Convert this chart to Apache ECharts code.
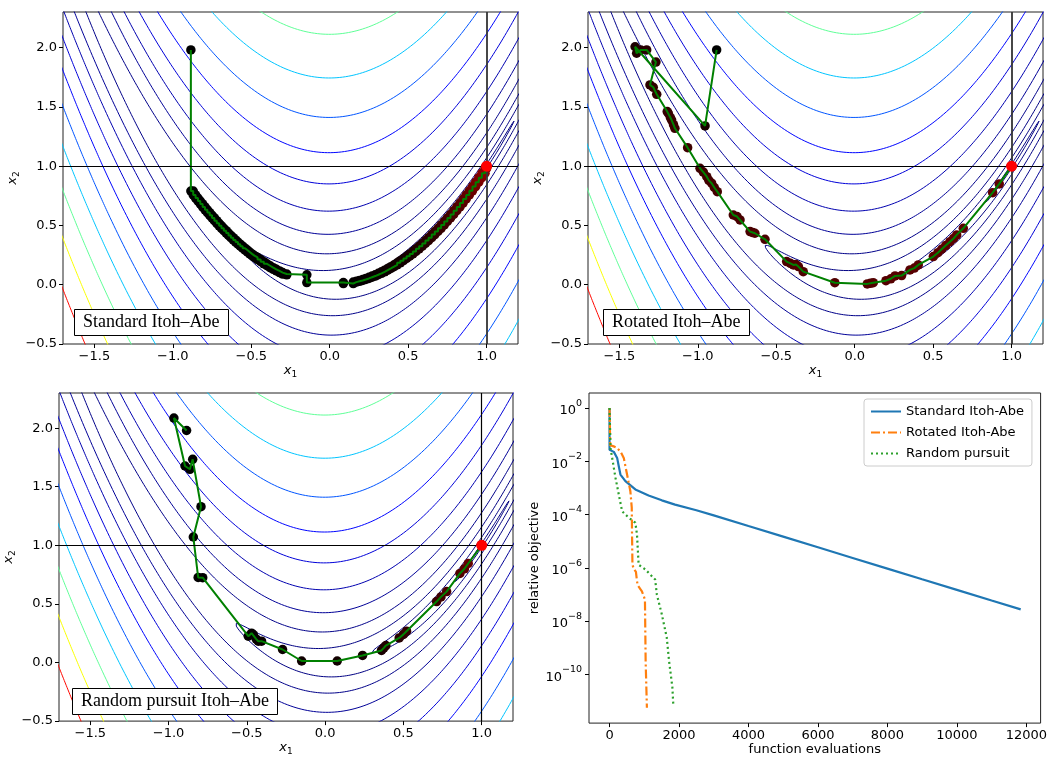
<!DOCTYPE html>
<html><head><meta charset="utf-8">
<script src="https://cdn.jsdelivr.net/npm/echarts@6/dist/echarts.min.js"></script>
<style>html,body{margin:0;padding:0;background:#fff}#c{width:1050px;height:757px}</style>
</head><body><div id="c"></div>
<script>
// ---------------- data ----------------
const rosenA = 1, rosenB = 100;                 // objective f = (a-x1)^2 + b(x2-x1^2)^2
const contourLevels = [0.0305, 0.488, 2.47, 7.81, 19.07, 39.5, 73.3, 125, 200, 305, 447, 633, 866];
const contourColors = ['#000080','#000080','#000083','#000089','#000097','#0000af','#0000d8','#0005ff','#0055ff','#00c4ff','#5fff97','#faff00','#ff0800'];
const panelTitles = ['Standard Itoh\u2013Abe', 'Rotated Itoh\u2013Abe', 'Random pursuit Itoh\u2013Abe'];
const x1Ticks = [-1.5, -1.0, -0.5, 0.0, 0.5, 1.0];
const x2Ticks = [-0.5, 0.0, 0.5, 1.0, 1.5, 2.0];
const minimizer = [1, 1];

const stdPath = [[-0.885,1.98],[-0.885,0.79],
[-0.87,0.79],[-0.87,0.757],[-0.855,0.757],[-0.855,0.731],[-0.84,0.731],[-0.84,0.706],[-0.825,0.706],[-0.825,0.681],[-0.81,0.681],[-0.81,0.656],[-0.795,0.656],[-0.795,0.632],[-0.78,0.632],[-0.78,0.608],[-0.765,0.608],[-0.765,0.585],[-0.75,0.585],[-0.75,0.563],[-0.735,0.563],[-0.735,0.540],[-0.72,0.540],[-0.72,0.518],[-0.705,0.518],[-0.705,0.497],[-0.69,0.497],[-0.69,0.476],[-0.675,0.476],[-0.675,0.456],[-0.66,0.456],[-0.66,0.436],[-0.645,0.436],[-0.645,0.416],[-0.63,0.416],[-0.63,0.397],[-0.615,0.397],[-0.615,0.378],[-0.60,0.378],[-0.60,0.360],[-0.585,0.360],[-0.585,0.342],[-0.57,0.342],[-0.57,0.325],[-0.555,0.325],[-0.555,0.308],[-0.54,0.308],[-0.54,0.292],[-0.525,0.292],[-0.525,0.276],[-0.51,0.276],[-0.51,0.260],[-0.495,0.260],[-0.495,0.245],[-0.48,0.245],[-0.48,0.230],[-0.46,0.230],[-0.46,0.212],[-0.44,0.212],[-0.44,0.194],[-0.42,0.194],[-0.42,0.176],[-0.40,0.176],[-0.40,0.160],[-0.38,0.160],[-0.38,0.144],[-0.36,0.144],[-0.36,0.130],[-0.34,0.130],[-0.34,0.116],[-0.32,0.116],[-0.32,0.102],[-0.30,0.102],[-0.30,0.090],[-0.274,0.090],[-0.274,0.083],
[-0.146,0.083],[-0.146,0.018],[0.087,0.018],[0.087,0.010],[0.15,0.010],[0.15,0.022],
[0.17,0.022],[0.17,0.029],[0.19,0.029],[0.19,0.036],[0.21,0.036],[0.21,0.044],[0.23,0.044],[0.23,0.053],[0.25,0.053],[0.25,0.063],[0.27,0.063],[0.27,0.073],[0.29,0.073],[0.29,0.084],[0.31,0.084],[0.31,0.096],[0.33,0.096],[0.33,0.109],[0.35,0.109],[0.35,0.123],[0.37,0.123],[0.37,0.137],[0.39,0.137],[0.39,0.152],[0.41,0.152],[0.41,0.168],[0.43,0.168],[0.43,0.185],[0.45,0.185],[0.45,0.203],[0.47,0.203],[0.47,0.221],[0.49,0.221],[0.49,0.240],[0.51,0.240],[0.51,0.260],[0.53,0.260],[0.53,0.281],[0.55,0.281],[0.55,0.303],[0.57,0.303],[0.57,0.325],[0.59,0.325],[0.59,0.348],[0.61,0.348],[0.61,0.372],[0.63,0.372],[0.63,0.397],[0.65,0.397],[0.65,0.423],[0.67,0.423],[0.67,0.449],[0.69,0.449],[0.69,0.476],[0.71,0.476],[0.71,0.504],[0.73,0.504],[0.73,0.533],[0.75,0.533],[0.75,0.563],[0.77,0.563],[0.77,0.593],[0.79,0.593],[0.79,0.624],[0.81,0.624],[0.81,0.656],[0.83,0.656],[0.83,0.689],[0.85,0.689],[0.85,0.723],[0.87,0.723],[0.87,0.757],[0.89,0.757],[0.89,0.792],[0.91,0.792],[0.91,0.828],[0.93,0.828],[0.93,0.865],[0.95,0.865],[0.95,0.903],[0.97,0.903],[0.97,0.941],[0.99,0.941],[0.99,0.98],[1.0,0.98],[1.0,1.0]];

const rotPath = [[-0.88,1.98],[-0.954,1.339],[-1.40,2.007],[-1.39,1.952],[-1.364,1.98],[-1.326,1.98],[-1.267,1.878],[-1.305,1.685],[-1.284,1.665],[-1.262,1.606],[-1.195,1.46],[-1.188,1.446],[-1.175,1.41],[-1.167,1.389],[-1.155,1.35],[-1.146,1.319],[-1.065,1.156],[-0.986,0.982],[-0.965,0.95],[-0.943,0.911],[-0.93,0.88],[-0.912,0.856],[-0.895,0.82],[-0.876,0.785],[-0.774,0.588],[-0.75,0.575],[-0.731,0.546],[-0.667,0.448],[-0.65,0.44],[-0.636,0.434],[-0.572,0.383],[-0.434,0.195],[-0.41,0.18],[-0.391,0.167],[-0.375,0.17],[-0.359,0.153],[-0.328,0.11],[-0.127,0.017],[0.080,0.007],[0.10,0.012],[0.118,0.017],[0.199,0.034],[0.23,0.05],[0.257,0.074],[0.299,0.077],[0.352,0.125],[0.38,0.14],[0.405,0.167],[0.501,0.237],[0.53,0.27],[0.554,0.299],[0.58,0.33],[0.607,0.363],[0.630,0.39],[0.650,0.420],[0.692,0.476],[0.879,0.776],[0.921,0.850],[1.0,1.0]];

const rpPath = [[-0.885,1.98],[-0.966,2.086],[-0.895,1.677],[-0.864,1.649],[-0.846,1.734],[-0.793,1.33],[-0.842,1.071],[-0.811,0.726],[-0.782,0.724],[-0.491,0.225],[-0.47,0.25],[-0.459,0.238],[-0.44,0.2],[-0.427,0.182],[-0.406,0.182],[-0.272,0.111],[-0.150,0.013],[0.077,0.013],[0.239,0.06],[0.36,0.103],[0.375,0.125],[0.388,0.145],[0.473,0.21],[0.50,0.24],[0.520,0.267],[0.712,0.52],[0.74,0.56],[0.776,0.605],[0.861,0.76],[0.89,0.80],[0.914,0.845],[1.0,1.0]];

// relative objective vs function evaluations
const seriesNames = ['Standard Itoh-Abe', 'Rotated Itoh-Abe', 'Random pursuit'];
const stdEvals = [0,0,124,219,266,314,457,743,1124,1505,1886,2500,3000,4000,5000,6000,7000,8000,9000,10000,11000,11838];
const stdObj = [1,0.0269,0.0224,0.0133,0.00646,0.00316,0.00178,0.00087,5.2e-4,3.4e-4,2.34e-4,1.45e-4,9.3e-5,3.7e-5,1.48e-5,5.9e-6,2.34e-6,9.3e-7,3.7e-7,1.48e-7,5.9e-8,2.75e-8];
const rotEvals = [0,20,120,191,314,410,505,600,640,648,660,700,760,790,810,933,1000,1020,1040,1076];
const rotObj = [1,0.04,0.036,0.033,0.0234,0.0133,0.00316,0.00074,0.00018,1.8e-5,1.3e-6,9e-7,7e-7,3.2e-7,2.2e-7,1.3e-7,7.6e-8,6e-8,3e-10,5.6e-12];
const rpEvals = [0,30,76,171,267,362,552,743,790,838,1029,1314,1362,1505,1648,1714,1810,1838];
const rpObj = [1,0.03,0.0133,0.0024,0.00056,0.000132,7.6e-5,4.9e-5,1.8e-5,1.3e-6,8.7e-7,3.6e-7,1e-7,1.8e-8,2.4e-9,3.2e-10,3.2e-11,6.5e-12];
const evalTicks = [0,2000,4000,6000,8000,10000,12000];
const decadeTicks = [-10,-8,-6,-4,-2,0];

// ---------------- layout / style ----------------
const X1MIN = -1.7, X1MAX = 1.2, X2MIN = -0.5, X2MAX = 2.3;
const grids = [
  {left:63, top:12, width:455, height:332},
  {left:588, top:12, width:455, height:332},
  {left:59, top:393, width:454, height:331},
  {left:589, top:393, width:454, height:331}
];
const FONT = 'DejaVu Sans';
const tickFmt = v => (v < 0 ? '\u2212' : '') + Math.abs(v).toFixed(1);

function contourData(c) {
  const s = Math.sqrt(c), h = Math.sqrt(c / rosenB);
  const cmax = Math.min(1, (X1MAX + 0.05 - rosenA) / s);
  const cmin = Math.max(-1, (X1MIN - 0.05 - rosenA) / s);
  const t1 = Math.acos(cmax), t2 = Math.acos(cmin);
  const N = 500, pts = [];
  const pt = t => { const x = rosenA + s * Math.cos(t); return [x, x * x + h * Math.sin(t)]; };
  if (cmin === -1) {
    const a = t1, b = 2 * Math.PI - t1;
    for (let i = 0; i <= 2 * N; i++) pts.push(pt(a + (b - a) * i / (2 * N)));
  } else {
    for (let i = 0; i <= N; i++) pts.push(pt(t1 + (t2 - t1) * i / N));
    pts.push([null, null]);
    const a = 2 * Math.PI - t2, b = 2 * Math.PI - t1;
    for (let i = 0; i <= N; i++) pts.push(pt(a + (b - a) * i / N));
  }
  return pts;
}

function markerColors(n, p, maxR) {
  const out = [];
  for (let i = 0; i < n; i++) {
    const t = n > 1 ? i / (n - 1) : 0;
    const r = Math.round(maxR * Math.pow(t, p));
    out.push('rgb(' + r + ',0,0)');
  }
  return out;
}

const xAxes = [], yAxes = [], series = [], titles = [];
const paths = [stdPath, rotPath, rpPath];
const colorParams = [[5, 150], [0.35, 95], [3, 110]];
const vlineStyle = [{color:'#333', width:1.8}, {color:'#333', width:1.8}, {color:'#000', width:1.2}];
const subRich = {i:{fontFamily:FONT, fontStyle:'italic', fontSize:13, color:'#000', verticalAlign:'top'}, s:{fontFamily:FONT, fontSize:9, color:'#000', verticalAlign:'bottom', padding:[6,0,0,0]}};

for (let g = 0; g < 3; g++) {
  xAxes.push({
    type:'value', gridIndex:g, min:X1MIN, max:X1MAX,
    name:'{i|x}{s|1}', nameLocation:'middle', nameGap:19,
    nameTextStyle:{rich:subRich},
    axisLine:{show:false, onZero:false}, splitLine:{show:false},
    axisTick:{show:true, length:4, lineStyle:{color:'#000'}, customValues:x1Ticks},
    axisLabel:{fontFamily:FONT, fontSize:13, color:'#000', margin:6, formatter:tickFmt, customValues:x1Ticks, showMinLabel:true, showMaxLabel:true}
  });
  yAxes.push({
    type:'value', gridIndex:g, min:X2MIN, max:X2MAX,
    name:'{i|x}{s|2}', nameLocation:'middle', nameGap:38,
    nameTextStyle:{rich:subRich},
    axisLine:{show:false, onZero:false}, splitLine:{show:false},
    axisTick:{show:true, length:4, lineStyle:{color:'#000'}, customValues:x2Ticks},
    axisLabel:{fontFamily:FONT, fontSize:13, color:'#000', margin:6, formatter:tickFmt, customValues:x2Ticks, showMinLabel:true, showMaxLabel:true}
  });
  contourLevels.forEach((c, k) => {
    series.push({
      type:'line', xAxisIndex:g, yAxisIndex:g, data:contourData(c), showSymbol:false, symbol:'none',
      silent:true, clip:true, connectNulls:false, z:1,
      lineStyle:{color:contourColors[k], width:1}
    });
  });
  const path = paths[g];
  const cols = markerColors(path.length, colorParams[g][0], colorParams[g][1]);
  series.push({
    type:'scatter', xAxisIndex:g, yAxisIndex:g, silent:true, z:3, symbolSize:9.5,
    data:path.map((p, i) => ({value:p, itemStyle:{color:cols[i], opacity:1}}))
  });
  series.push({
    type:'line', xAxisIndex:g, yAxisIndex:g, silent:true, z:4, showSymbol:false, symbol:'none',
    data:path, lineStyle:{color:'#008000', width:2},
    markLine:{silent:true, symbol:['none','none'], label:{show:false}, animation:false,
      data:[{xAxis:minimizer[0], lineStyle:vlineStyle[g]}, {yAxis:minimizer[1], lineStyle:{color:'#000', width:1.2}}],
      lineStyle:{type:'solid'}}
  });
  series.push({
    type:'scatter', xAxisIndex:g, yAxisIndex:g, silent:true, z:5, symbolSize:11,
    data:[minimizer], itemStyle:{color:'#ff0000', opacity:1}
  });
  titles.push({
    text:panelTitles[g],
    left:[74, 603, 72][g], top:[309, 309, 688][g],
    padding:[3,9,3,9], backgroundColor:'#fff', borderColor:'#000', borderWidth:1,
    textStyle:{fontFamily:'Liberation Serif', fontWeight:'normal', fontSize:18, color:'#000', lineHeight:21}
  });
}

// convergence panel
const toLog = (ev, ob) => ev.map((e, i) => [e, Math.log10(ob[i])]);
xAxes.push({
  type:'value', gridIndex:3, min:-591, max:12411,
  name:'function evaluations', nameLocation:'middle', nameGap:19,
  nameTextStyle:{fontFamily:FONT, fontSize:13, color:'#000'},
  axisLine:{show:false, onZero:false}, splitLine:{show:false},
  axisTick:{show:true, length:4, lineStyle:{color:'#000'}, customValues:evalTicks},
  axisLabel:{fontFamily:FONT, fontSize:13, color:'#000', margin:6, customValues:evalTicks, formatter:v => String(Math.round(v))}
});
yAxes.push({
  type:'value', gridIndex:3, min:-11.83, max:0.56,
  name:'relative objective', nameLocation:'middle', nameGap:45,
  nameTextStyle:{fontFamily:FONT, fontSize:13, color:'#000'},
  axisLine:{show:false, onZero:false}, splitLine:{show:false},
  axisTick:{show:true, length:4, lineStyle:{color:'#000'}, customValues:decadeTicks},
  axisLabel:{margin:7, customValues:decadeTicks,
    formatter:v => '{b|10}{s|' + (v < 0 ? '\u2212' : '') + Math.abs(Math.round(v)) + '}',
    rich:{b:{fontFamily:FONT, fontSize:13, color:'#000', verticalAlign:'bottom', padding:[6,0,0,0]},
          s:{fontFamily:FONT, fontSize:9.5, color:'#000', verticalAlign:'top'}}}
});
series.push({name:seriesNames[0], type:'line', xAxisIndex:3, yAxisIndex:3, data:toLog(stdEvals, stdObj), showSymbol:false, symbol:'none', silent:true, z:3,
  color:'#1f77b4', lineStyle:{color:'#1f77b4', width:2.2}});
series.push({name:seriesNames[1], type:'line', xAxisIndex:3, yAxisIndex:3, data:toLog(rotEvals, rotObj), showSymbol:false, symbol:'none', silent:true, z:3,
  color:'#ff7f0e', lineStyle:{color:'#ff7f0e', width:2.2, type:[9,3,2,3]}});
series.push({name:seriesNames[2], type:'line', xAxisIndex:3, yAxisIndex:3, data:toLog(rpEvals, rpObj), showSymbol:false, symbol:'none', silent:true, z:3,
  color:'#2ca02c', lineStyle:{color:'#2ca02c', width:2.2, type:[2,3]}});

const option = {
  animation:false,
  backgroundColor:'#fff',
  title:titles,
  grid:grids.map(g => Object.assign({show:true, borderColor:'#222', borderWidth:1, backgroundColor:'transparent', containLabel:false}, g)),
  xAxis:xAxes, yAxis:yAxes,
  legend:{data:seriesNames, left:864, top:399, orient:'vertical', itemWidth:30, itemHeight:12, itemGap:8,
    padding:[6,8,6,6], backgroundColor:'#fff', borderColor:'#ccc', borderWidth:1, borderRadius:3,
    itemStyle:{opacity:0, borderWidth:0},
    textStyle:{fontFamily:FONT, fontSize:13, color:'#000'}, selectedMode:false},
  series:series
};
const chart = echarts.init(document.getElementById('c'), null, {renderer:'canvas'});
chart.setOption(option);
</script></body></html>
